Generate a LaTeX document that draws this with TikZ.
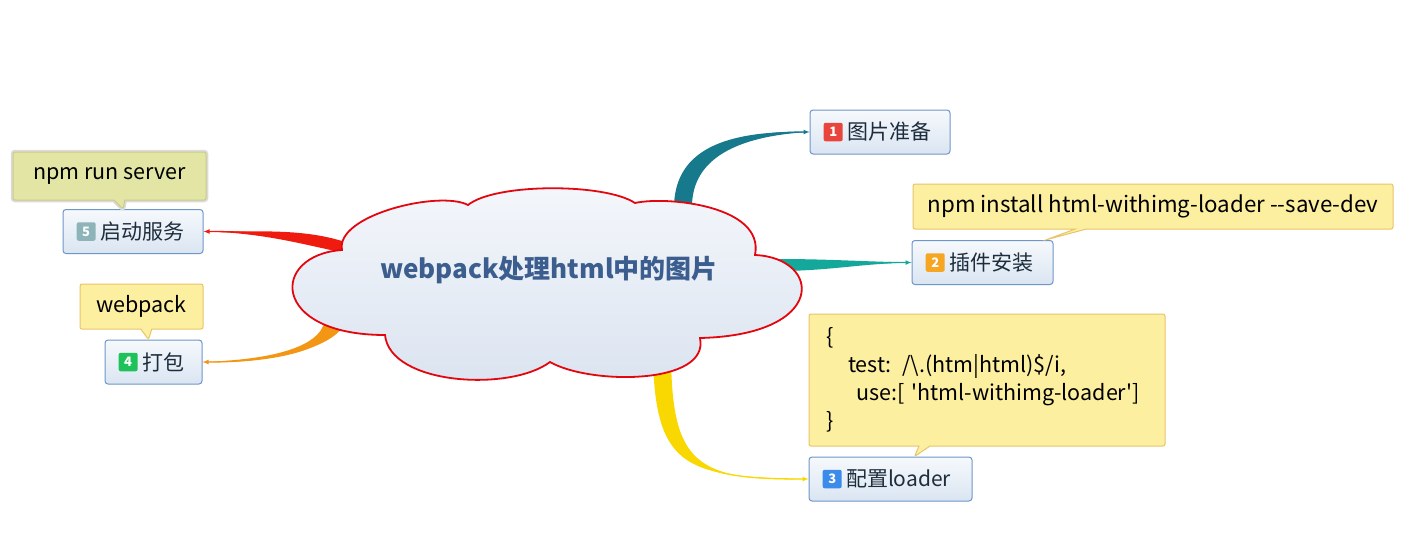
\documentclass[tikz,border=0pt]{standalone}
\usepackage{fontspec}
\setmainfont{Noto Sans CJK SC}[Ligatures=TeXOff]
\usetikzlibrary{shapes.callouts,arrows.meta,calc}

\definecolor{cloudline}{HTML}{E3060E}
\definecolor{cloudtop}{HTML}{F4F7FB}
\definecolor{cloudbot}{HTML}{DAE3F0}
\definecolor{titleblue}{HTML}{3B5E8F}
\definecolor{topicline}{HTML}{6E96C9}
\definecolor{topictop}{HTML}{F6F9FC}
\definecolor{topicbot}{HTML}{DAE5F2}
\definecolor{topictext}{HTML}{1E2D3D}
\definecolor{notefill}{HTML}{FCEFA0}
\definecolor{noteline}{HTML}{E8C46A}
\definecolor{srvfill}{HTML}{E2E5A3}
\definecolor{srvline}{HTML}{CDCB84}
\definecolor{branchA}{HTML}{177A8C}
\definecolor{branchB}{HTML}{14A89A}
\definecolor{branchC}{HTML}{F8D800}
\definecolor{branchD}{HTML}{F39614}
\definecolor{branchE}{HTML}{EE1B0E}
\definecolor{badgeA}{HTML}{E8463C}
\definecolor{badgeB}{HTML}{F6A623}
\definecolor{badgeC}{HTML}{3B8BEB}
\definecolor{badgeD}{HTML}{1EC25A}
\definecolor{badgeE}{HTML}{8DB5B9}

\begin{document}
\begin{tikzpicture}[x=1pt,y=-1pt,>=latex,
  topic/.style={draw=topicline, line width=1pt, rounded corners=3pt,
    top color=topictop, bottom color=topicbot, minimum height=44pt,
    inner xsep=14pt, align=left, text=topictext, font=\fontsize{21}{24}\selectfont},
  badge/.style={anchor=west, rounded corners=2pt, minimum width=19pt, minimum height=18.5pt,
    inner sep=0pt, text=white, font=\fontsize{13}{13}\selectfont\bfseries},
  note/.style={rectangle callout, draw=noteline, line width=1pt,
    rounded corners=2pt, fill=notefill, inner sep=0pt,
    callout pointer width=11pt, font=\fontsize{21.5}{28}\selectfont},
  tip/.style={line width=1.3pt, -{Latex[length=6pt,width=5pt]}}]

\useasboundingbox (0,0) rectangle (1420,533);

% Start points on the cloud
\coordinate (s1) at (683,205);
\coordinate (s2) at (778,265);
\coordinate (s3) at (662,360);
\coordinate (s4) at (335,325);
\coordinate (s5) at (342,247);

% Topics
\node[topic, text width=112pt] (n1) at (880,132) {\hspace*{23pt}图片准备};
\node[topic, text width=113pt] (n2) at (982.5,262.5) {\hspace*{23pt}插件安装};
\node[topic, text width=135pt] (n3) at (890.5,479) {\hspace*{23pt}配置loader};
\node[topic, text width=69pt] (n4) at (153.5,362) {\hspace*{23pt}打包};
\node[topic, text width=112pt] (n5) at (133,231.5) {\hspace*{23pt}启动服务};

% Priority badges
\node[badge, fill=badgeA] (b1) at ($(n1.west)+(14,0)$) {1};
\node[badge, fill=badgeB] (b2) at ($(n2.west)+(14,0)$) {2};
\node[badge, fill=badgeC] (b3) at ($(n3.west)+(14,0)$) {3};
\node[badge, fill=badgeD] (b4) at ($(n4.west)+(14,0)$) {4};
\node[badge, fill=badgeE] (b5) at ($(n5.west)+(14,0)$) {5};

% Tapered branches
\fill[branchA] ($(s1)+(-9,0)$) .. controls +(2,-55) and +(-85,-2) .. (n1.west)
  .. controls +(-75,4) and +(1,-45) .. ($(s1)+(9,0)$) -- cycle;
\draw[branchA, tip] (s1) .. controls +(1,-50) and +(-80,0) .. (n1.west);

\fill[branchB] ($(s2)+(0,-6)$) .. controls +(50,0) and +(-50,-1) .. (n2.west)
  .. controls +(-50,1) and +(50,0) .. ($(s2)+(0,6)$) -- cycle;
\draw[branchB, tip] (s2) .. controls +(50,0) and +(-50,0) .. (n2.west);

\fill[branchC] ($(s3)+(-9,0)$) .. controls +(3,110) and +(-120,-2) .. (n3.west)
  .. controls +(-115,3) and +(2,100) .. ($(s3)+(9,0)$) -- cycle;
\draw[branchC, tip] (s3) .. controls +(4,105) and +(-118,0) .. (n3.west);

\fill[branchD] ($(s4)+(-10,-5)$) .. controls +(-5,30) and +(60,-2) .. (n4.east)
  .. controls +(70,2) and +(-8,25) .. ($(s4)+(10,-3)$) -- cycle;
\draw[branchD, tip] (s4) .. controls +(-8,28) and +(60,0) .. (n4.east);

\fill[branchE] ($(s5)+(0,-6)$) .. controls +(-40,-12) and +(60,0) .. (n5.east)
  .. controls +(60,1) and +(-40,-8) .. ($(s5)+(3,6)$) -- cycle;
\draw[branchE, tip] (s5) .. controls +(-40,-10) and +(60,0) .. (n5.east);

% Central cloud
\draw[draw=cloudline, line width=1.8pt, top color=cloudtop, bottom color=cloudbot]
  (342,250) .. controls (335,215) and (440,190) .. (468,205)
  .. controls (495,183) and (605,183) .. (635,203)
  .. controls (665,196) and (765,205) .. (755,255)
  .. controls (822,258) and (828,335) .. (700,338)
  .. controls (710,385) and (590,385) .. (550,362)
  .. controls (510,392) and (390,385) .. (385,335)
  .. controls (270,335) and (270,255) .. (342,250) -- cycle;
\node[text=titleblue, font=\fontsize{26}{28}\selectfont\bfseries] (title) at (549,270)
  {webpack处理html中的图片};

% Notes
\node[note, minimum width=480pt, minimum height=45pt, font=\fontsize{22.3}{28}\selectfont,
  callout absolute pointer={($(n2.north east)+(-8,0)$)}] (t2) at (1153,206.5)
  {npm install html-withimg-loader --save-dev};
\node[note, minimum width=356pt, minimum height=132pt, text width=322pt, align=left,
  callout absolute pointer={($(n3.north west)+(106,0)$)}] (t3) at (987,380)
  {\{\\
   \hspace*{22pt}test: /\textbackslash.(htm|html)\$/i,\\
   \hspace*{30pt}use:[ 'html-withimg-loader']\\
   \}};
\node[note, minimum width=123pt, minimum height=45pt,
  callout absolute pointer={($(n4.north)+(-5,0)$)}] (t4) at (141.5,306.5) {webpack};
\node[note, fill=srvfill, draw=srvline, minimum width=193pt, minimum height=48pt,
  preaction={draw=gray!28, line width=4.5pt},
  callout absolute pointer={($(n5.north)+(-10,0)$)}] (t5) at (109.5,176) {npm run server};

\end{tikzpicture}
\end{document}
